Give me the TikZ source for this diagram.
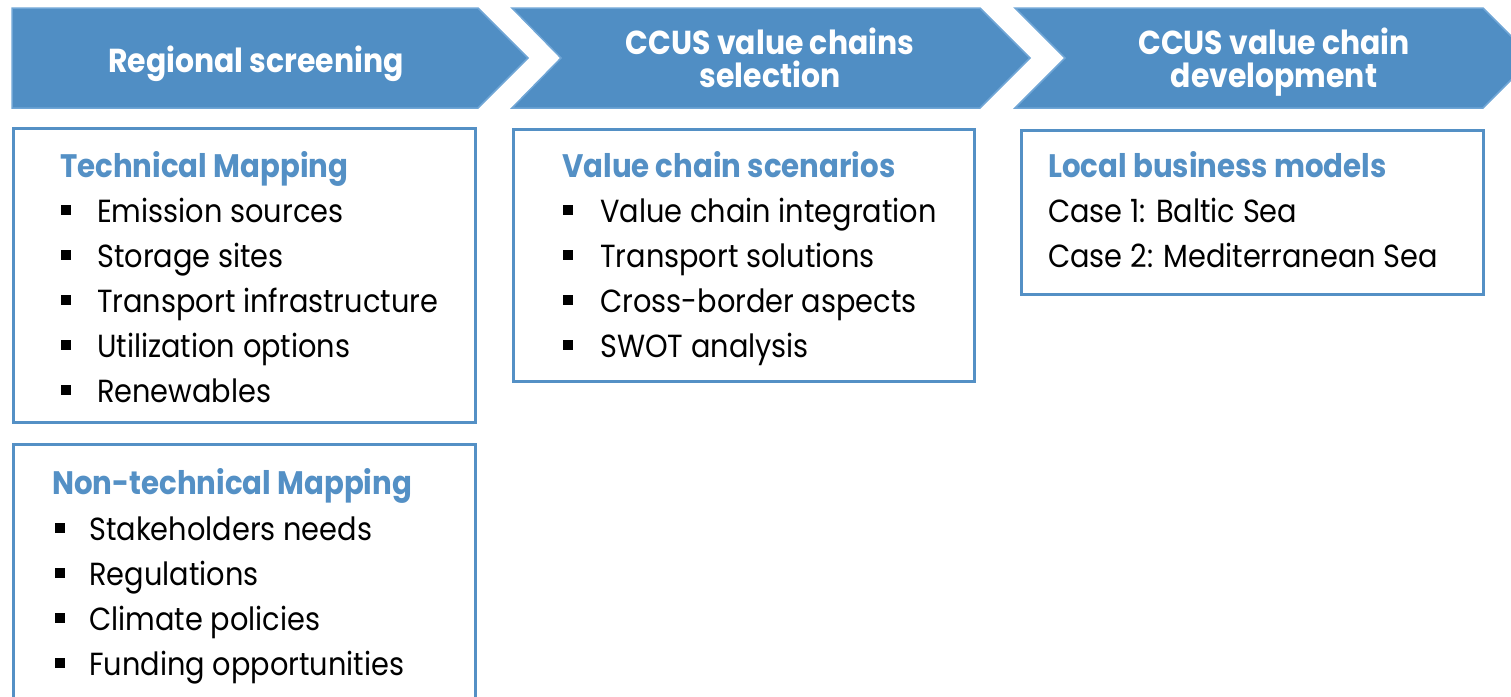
\documentclass[tikz,border=0pt]{standalone}
\usepackage{fontspec}
\setmainfont{Poppins}[FakeStretch=0.9]
\definecolor{cfill}{RGB}{80,142,196}
\definecolor{cedge}{RGB}{112,166,214}
\definecolor{cblue}{RGB}{84,144,197}
\newcommand\bodyfnt{\fontsize{32}{36}\selectfont}
\newcommand\headfnt{\fontsize{32.5}{36}\selectfont\bfseries}
\newcommand\chevfnt{\fontsize{33.2}{36}\selectfont\bfseries}
\tikzset{
  chev/.style={fill=cfill, draw=cedge, line width=1.5pt, line join=miter},
  box/.style={draw=cblue, line width=3pt},
  head/.style={anchor=base west, inner sep=0pt, text=cblue, font=\headfnt},
  item/.style={anchor=base west, inner sep=0pt, font=\bodyfnt},
  bul/.style={fill=black, minimum size=9.5pt, inner sep=0pt},
  chevtext/.style={anchor=base, inner sep=0pt, text=white, font=\chevfnt}
}
\begin{document}
\begin{tikzpicture}[x=1pt,y=-1pt]
\useasboundingbox (0,0) rectangle (1511,696);
\clip (0,0) rectangle (1511,696);
% chevrons
\draw[chev] (12,8) -- (478,8) -- (528,58) -- (478,108) -- (12,108) -- cycle;
\draw[chev] (512,8) -- (980,8) -- (1030,58) -- (980,108) -- (512,108) -- (561,58) -- cycle;
\draw[chev] (1015,8) -- (1483,8) -- (1533,58) -- (1483,108) -- (1015,108) -- (1065,58) -- cycle;
\node[chevtext] (c1) at (256,72) {Regional screening};
\node[chevtext] (c2a) at (770,54) {CCUS value chains};
\node[chevtext] (c2b) at (770,87) {selection};
\node[chevtext] (c3a) at (1274,54) {CCUS value chain};
\node[chevtext] (c3b) at (1274,87) {development};
% boxes
\draw[box] (13.5,128.5) rectangle (475.5,422.5);
\draw[box] (13.5,444.5) rectangle (475.5,720);
\draw[box] (513.5,129.5) rectangle (974.5,381);
\draw[box] (1021.5,130.5) rectangle (1483.5,294);
% box 1
\node[head] (h1) at (60,177) {Technical Mapping};
\foreach \t [count=\i] in {Emission sources,Storage sites,Transport infrastructure,Utilization options,Renewables}{
  \node[bul] (b1\i) at (66,222-12+45*\i-45) {};
  \node[item] (t1\i) at (97,222+45*\i-45) {\t};
}
% box 2
\node[head] (h2) at (52,494) {Non-technical Mapping};
\foreach \t [count=\i] in {Stakeholders needs,Regulations,Climate policies,Funding opportunities}{
  \node[bul] (b2\i) at (60,540-12+45*\i-45) {};
  \node[item] (t2\i) at (89,540+45*\i-45) {\t};
}
% box 3
\node[head] (h3) at (562,177) {Value chain scenarios};
\foreach \t [count=\i] in {Value chain integration,Transport solutions,Cross-border aspects,SWOT analysis}{
  \node[bul] (b3\i) at (568,222-12+45*\i-45) {};
  \node[item] (t3\i) at (600,222+45*\i-45) {\t};
}
% box 4
\node[head] (h4) at (1048,177) {Local business models};
\node[item] (t41) at (1048,222) {Case 1: Baltic Sea};
\node[item] (t42) at (1048,267) {Case 2: Mediterranean Sea};
\end{tikzpicture}
\end{document}
